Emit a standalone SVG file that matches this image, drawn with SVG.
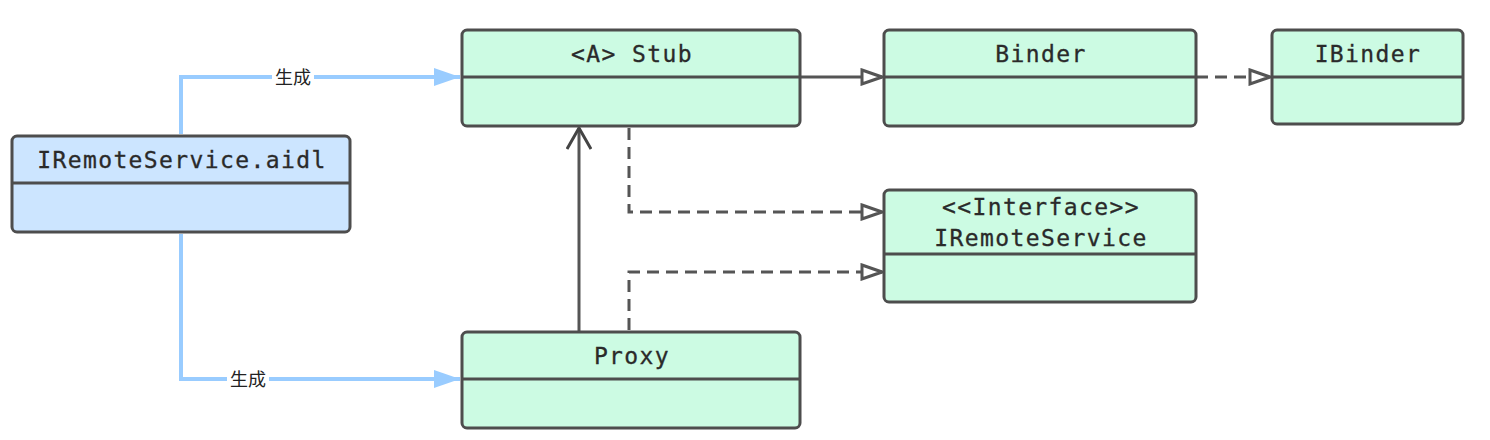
<svg xmlns="http://www.w3.org/2000/svg" width="1490" height="440" viewBox="0 0 1490 440">
<style>
.box{stroke:#4d4d4d;stroke-width:3}
.g{fill:#ccfbe3}
.b{fill:#cce5ff}
.div{stroke:#4d4d4d;stroke-width:3}
.t{font-family:"DejaVu Sans Mono",monospace;font-size:23px;letter-spacing:1.4px;fill:#2a2a2a;stroke:#2a2a2a;stroke-width:0.3;text-anchor:middle}
.blue{fill:none;stroke:#99ccff;stroke-width:4}
.solid{fill:none;stroke:#555;stroke-width:3}
.dash{fill:none;stroke:#555;stroke-width:3;stroke-dasharray:12 7}
.lbl{font-family:"Noto Sans CJK SC",sans-serif;font-size:18px;fill:#222;text-anchor:middle}
</style>
<defs>
<marker id="blueArrow" viewBox="0 0 26 18" refX="26" refY="9" markerWidth="26" markerHeight="18" markerUnits="userSpaceOnUse" orient="auto">
<path d="M0,0 L26,9 L0,18 Z" fill="#99ccff"/>
</marker>
<marker id="hollow" viewBox="0 0 24 18" refX="22" refY="9" markerWidth="24" markerHeight="18" markerUnits="userSpaceOnUse" orient="auto">
<path d="M2,2 L22,9 L2,16 Z" fill="#fff" stroke="#555" stroke-width="3" stroke-linejoin="miter"/>
</marker>
<marker id="open" viewBox="0 0 26 26" refX="24" refY="13" markerWidth="26" markerHeight="26" markerUnits="userSpaceOnUse" orient="auto">
<path d="M3,1 L24,13 L3,25" fill="none" stroke="#444" stroke-width="3"/>
</marker>
</defs>

<g id="connectors">
<path class="blue" d="M181,134 V77 H460" marker-end="url(#blueArrow)"/>
<rect x="272" y="66" width="42" height="22" fill="#fff"/>
<text class="lbl" x="293" y="84">生成</text>
<path class="blue" d="M181,234 V379 H460" marker-end="url(#blueArrow)"/>
<rect x="227" y="368" width="42" height="22" fill="#fff"/>
<text class="lbl" x="248" y="386">生成</text>
<path class="solid" d="M801,77 H882" marker-end="url(#hollow)"/>
<path class="dash" d="M1196,77 H1270" marker-end="url(#hollow)"/>
<path class="dash" d="M629,128 V212 H882" marker-end="url(#hollow)"/>
<path class="dash" d="M629,330 V272 H882" marker-end="url(#hollow)"/>
<path class="solid" d="M579,331 V128" stroke="#444" marker-end="url(#open)"/>
</g>

<g id="aidl">
<rect class="box b" x="12" y="136" width="338" height="96" rx="5"/>
<line class="div" x1="12" y1="183" x2="350" y2="183"/>
<text class="t" x="182" y="168">IRemoteService.aidl</text>
</g>

<g id="stub">
<rect class="box g" x="462" y="30" width="338" height="96" rx="5"/>
<line class="div" x1="462" y1="77" x2="800" y2="77"/>
<text class="t" x="632" y="62">&lt;A&gt; Stub</text>
</g>

<g id="binder">
<rect class="box g" x="884" y="30" width="312" height="96" rx="5"/>
<line class="div" x1="884" y1="77" x2="1196" y2="77"/>
<text class="t" x="1041" y="62">Binder</text>
</g>

<g id="ibinder">
<rect class="box g" x="1272" y="30" width="191" height="94" rx="5"/>
<line class="div" x1="1272" y1="77" x2="1463" y2="77"/>
<text class="t" x="1368" y="62">IBinder</text>
</g>

<g id="iremoteservice">
<rect class="box g" x="884" y="190" width="312" height="112" rx="5"/>
<line class="div" x1="884" y1="254" x2="1196" y2="254"/>
<text class="t" x="1041" y="215">&lt;&lt;Interface&gt;&gt;</text>
<text class="t" x="1041" y="246">IRemoteService</text>
</g>

<g id="proxy">
<rect class="box g" x="462" y="332" width="338" height="96" rx="5"/>
<line class="div" x1="462" y1="379" x2="800" y2="379"/>
<text class="t" x="632" y="364">Proxy</text>
</g>
</svg>
